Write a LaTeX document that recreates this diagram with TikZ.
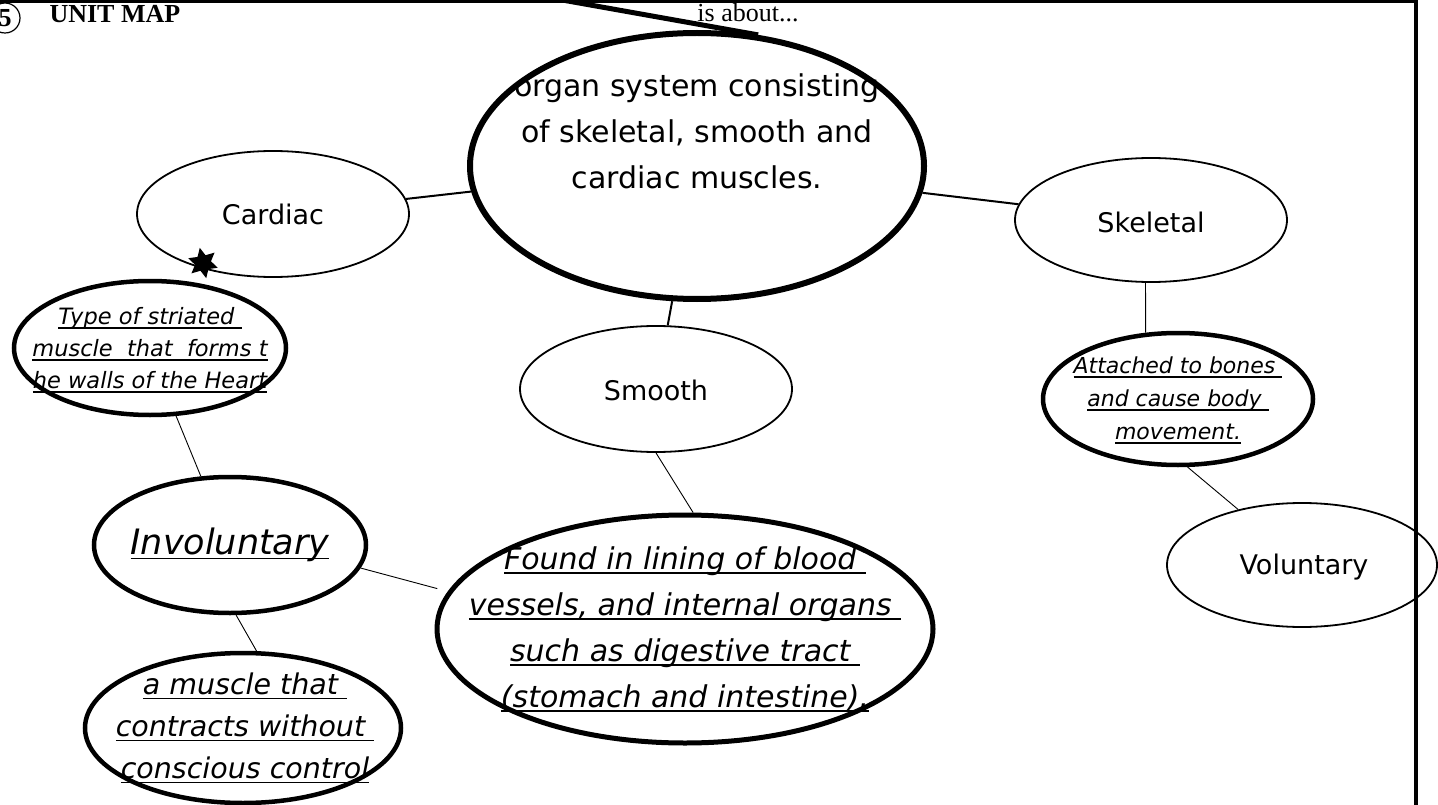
\documentclass[tikz,border=0pt]{standalone}
\usepackage{fontspec}
\setmainfont{DejaVu Sans}
\newfontfamily\timesfont{Liberation Serif}
\usetikzlibrary{shapes.geometric}

\newcommand{\fs}[2]{\fontsize{#1}{#2}\selectfont}
% underline that sits a few points under the baseline
\newcommand{\undl}[1]{\setbox0\hbox{#1}\rlap{\rule[-4.5pt]{\wd0}{1.4pt}}\box0}

\begin{document}
\begin{tikzpicture}[
  x=1pt,y=-1pt,
  bubble/.style={ellipse,draw,line width=1.8pt,inner sep=0pt},
  note/.style={ellipse,draw,line width=4.5pt,inner sep=0pt},
  hub/.style={ellipse,draw,line width=6pt,inner sep=0pt,minimum width=454pt,minimum height=266pt},
  edge/.style={line width=2pt},
  thinedge/.style={line width=0.9pt},
  lab/.style={font=\fs{27}{33}},
  notelab/.style={align=center,font=\itshape}
]
\useasboundingbox (0,0) rectangle (1438,805);

% ===================== header =====================
\node[circle,draw,line width=1.2pt,minimum size=30pt,inner sep=0pt,
  font=\timesfont\bfseries\fs{26}{26}] (num) at (5,18) {5};
\node[anchor=west,font=\timesfont\bfseries\fs{26}{26}] (title) at (46,14) {UNIT MAP};
\node[font=\timesfont\fs{26}{26}] (about) at (748,13) {is about...};

% ===================== texts =====================
\node[lab,font=\fs{30}{46},align=center] (hubtxt) at (697,131)
  {organ system consisting\\of skeletal, smooth and\\cardiac muscles.};
\node[lab] (cardtxt) at (273,214) {Cardiac};
\node[lab] (skeltxt) at (1151,222) {Skeletal};
\node[lab] (smootxt) at (656,390) {Smooth};
\node[lab] (volutxt) at (1304,567) {Voluntary};

\node[notelab,font=\itshape\fs{22.5}{32}] (typetxt) at (150,350)
  {\undl{Type of striated\ }\\\undl{muscle\ \ that\ \ forms t}\\\undl{he walls of the Heart}};
\node[notelab,font=\itshape\fs{22}{33}] (atchtxt) at (1178,400)
  {\undl{Attached to bones\ }\\\undl{and cause body\ }\\\undl{movement.}};
\node[notelab,font=\itshape\fs{35}{40}] (invotxt) at (230,545) {\undl{Involuntary}};
\node[notelab,font=\itshape\fs{30}{46}] (foundtxt) at (685,629)
  {\undl{Found in lining of blood\ }\\\undl{vessels, and internal organs\ }\\
   \undl{such as digestive tract\ }\\\undl{(stomach and intestine).}};
\node[notelab,font=\itshape\fs{28.5}{42}] (amustxt) at (245,728)
  {\undl{a muscle that\ }\\\undl{contracts without\ }\\\undl{conscious control}};

% ===================== ellipses =====================
\node[hub] (hub) at (697,166) {};
\node[bubble,minimum width=272pt,minimum height=126pt] (cardiac) at (273,214) {};
\node[bubble,minimum width=272pt,minimum height=124pt] (skeletal) at (1151,220) {};
\node[bubble,minimum width=272pt,minimum height=126pt] (smooth) at (656,389) {};
\node[bubble,minimum width=270pt,minimum height=124pt] (voluntary) at (1302,565) {};
\node[note,minimum width=272pt,minimum height=134pt] (type) at (150,348) {};
\node[note,minimum width=270pt,minimum height=132pt] (attached) at (1178,399) {};
\node[note,minimum width=272pt,minimum height=136pt] (invol) at (230,545) {};
\node[note,line width=5pt,minimum width=496pt,minimum height=228pt] (found) at (685,629) {};
\node[note,minimum width=316pt,minimum height=150pt] (amuscle) at (243,728) {};

\node[star,star points=6,star point ratio=1.9,fill,inner sep=0pt,
  minimum size=31pt,rotate=12] (mark) at (203,263) {};

% ===================== connectors =====================
\draw[edge] (cardiac) -- (hub);
\draw[edge] (hub) -- (skeletal);
\draw[edge] (hub) -- (smooth);
\draw[thinedge] (smooth.south) -- (found.86);
\draw[thinedge] (skeletal.-95) -- (attached.116);
\draw[thinedge] (attached.-82) -- (voluntary.139);
\draw[thinedge] (type.-69) -- (invol.113);
\draw[thinedge,shorten >=11pt] (invol.-10) -- (found.171);
\draw[thinedge] (invol.-85) -- (amuscle.80);

\coordinate (up) at (478,-15);
\draw[line width=5pt] (up) -- (hub.65);

% page frame
\draw[line width=4pt] (-5,1.5) -- (1416,1.5) -- (1416,810);

\end{tikzpicture}
\end{document}
